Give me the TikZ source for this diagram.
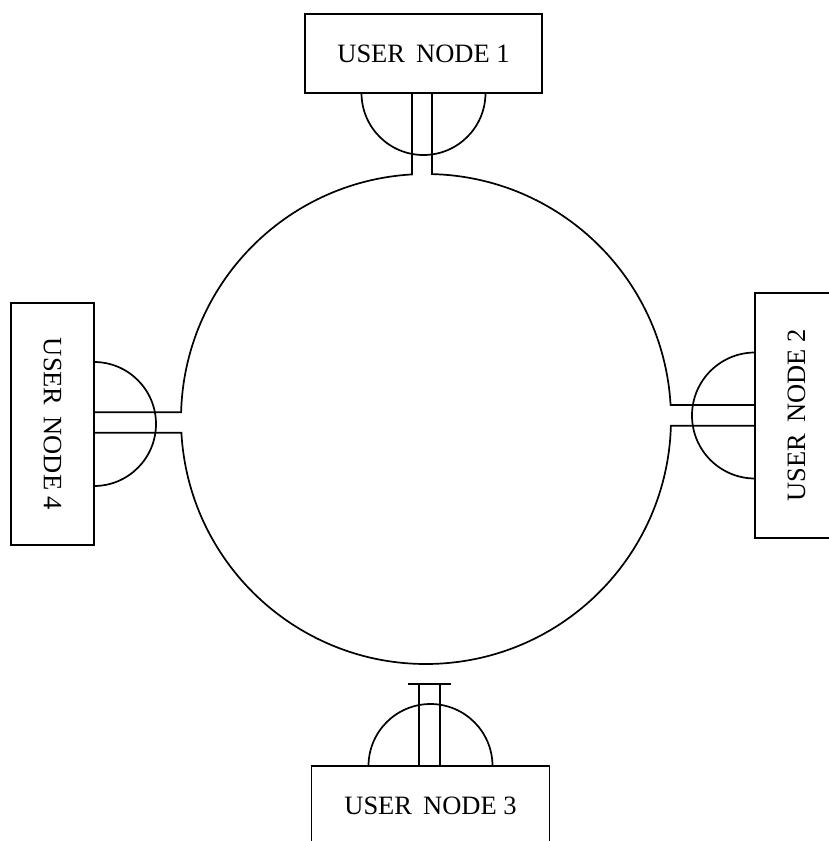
\documentclass[tikz,border=0pt]{standalone}
\usepackage{fontspec}
\usepackage{graphicx}
\setmainfont{Liberation Serif}
\begin{document}
\begin{tikzpicture}[x=1pt,y=1pt,line width=1.7pt,
    usernode/.style={draw,outer sep=0pt,inner sep=0pt,font=\fontsize{26.5}{30}\selectfont}]
            \useasboundingbox (0,0) rectangle (828,-841);
            % user stations
            \node [usernode,minimum width=237pt,minimum height=79pt] (u1) at (423.5,-53.5) {USER\ \,NODE 1};
            \node [usernode,minimum width=83pt,minimum height=245pt] (u2) at (796.5,-415.5) {\rotatebox{90}{USER\ \,NODE 2}};
            \node [usernode,minimum width=238pt,minimum height=79pt] (u3) at (430.5,-805.5) {USER\ \,NODE 3};
            \node [usernode,minimum width=83pt,minimum height=242pt] (u4) at (52.5,-424) {\rotatebox{-90}{USER\ \,NODE 4}};
            % taps on the ring
            \coordinate (ring) at (426,-419);
            \path (ring) ++(93.3:245) coordinate (j1a) (ring) ++(88.6:245) coordinate (j1b);
            \path (ring) ++(3.3:245) coordinate (j2a) (ring) ++(-1.6:245) coordinate (j2b);
            \path (ring) ++(178.4:245) coordinate (j4a) (ring) ++(183.2:245) coordinate (j4b);
            \draw (j1b |- u1.south) -- (j1b) arc [start angle=88.6,end angle=3.3,radius=245] -- (j2a -| u2.west);
            \draw (j1a |- u1.south) -- (j1a) arc [start angle=93.3,end angle=178.4,radius=245] -- (j4a -| u4.east);
            \draw (j4b -| u4.east) -- (j4b) arc [start angle=183.2,end angle=358.4,radius=245] -- (j2b -| u2.west);
            % loose tap of node 3
            \coordinate (k1) at (419,-684);
            \coordinate (k2) at (440,-684);
            \draw (k1 |- u3.north) -- (k1) (k2) -- (k2 |- u3.north);
            \draw ([xshift=-11pt]k1) -- ([xshift=11pt]k2);
            % half discs
            \draw (u1.south) ++(-62,0) arc [start angle=180,end angle=360,radius=62];
            \draw (u2.west) ++(0,63) arc [start angle=90,end angle=270,radius=63];
            \draw (u3.north) ++(-62,0) arc [start angle=180,end angle=0,radius=62];
            \draw (u4.east) ++(0,62) arc [start angle=90,end angle=-90,radius=62];
        \end{tikzpicture}
\end{document}
